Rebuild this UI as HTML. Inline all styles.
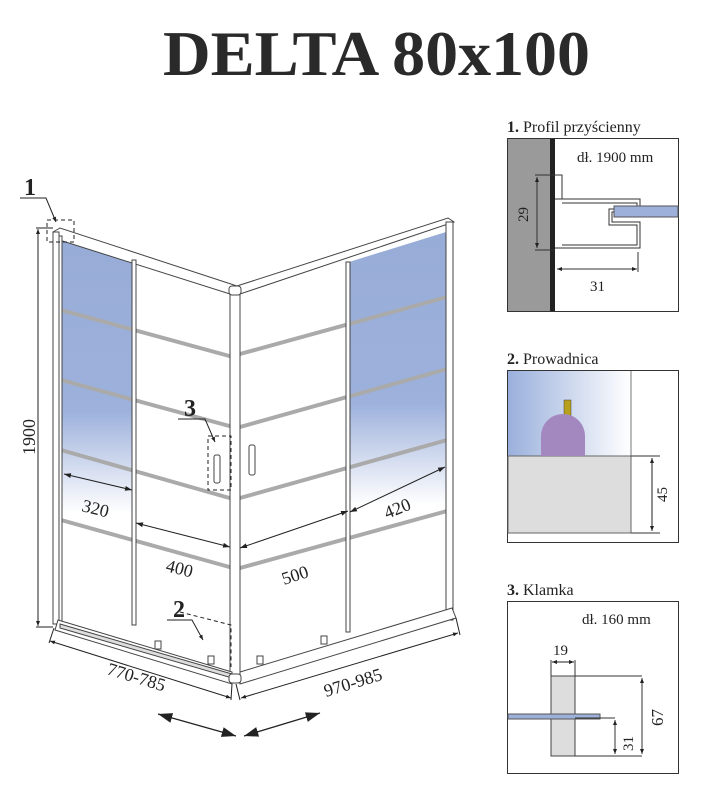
<!DOCTYPE html>
<html><head><meta charset="utf-8"><style>
html,body{margin:0;padding:0;background:#fff;}
svg{display:block;font-family:"Liberation Serif",serif;}
</style></head><body>
<svg width="704" height="800" viewBox="0 0 704 800" xmlns="http://www.w3.org/2000/svg">
<defs>
<marker id="a" viewBox="0 0 10 10" refX="10" refY="5" markerWidth="7" markerHeight="7" orient="auto-start-reverse"><path d="M0,1.5 L10,5 L0,8.5 z" fill="#222"/></marker>
<marker id="c" viewBox="0 0 10 10" refX="10" refY="5" markerWidth="11" markerHeight="11" orient="auto-start-reverse"><path d="M0,1.5 L10,5 L0,8.5 z" fill="#222"/></marker>
<marker id="b" viewBox="0 0 10 10" refX="10" refY="5" markerWidth="5" markerHeight="5" orient="auto-start-reverse"><path d="M0,1 L10,5 L0,9 z" fill="#222"/></marker>
<linearGradient id="gl" x1="0" y1="0" x2="0" y2="1"><stop offset="0" stop-color="#98acd8"/><stop offset="0.45" stop-color="#9db1dc"/><stop offset="0.72" stop-color="#fff"/></linearGradient>
<linearGradient id="gb" x1="0" y1="0" x2="1" y2="0"><stop offset="0" stop-color="#9ab0dc"/><stop offset="1" stop-color="#fff"/></linearGradient>
</defs>
<text x="163" y="75" font-size="64" font-weight="bold" fill="#2a2a2a" textLength="427" lengthAdjust="spacingAndGlyphs">DELTA 80x100</text>

<polygon points="62,240 134,262 134,620 62,620" fill="url(#gl)"/>
<polygon points="349,262 446,232 446,612 349,612" fill="url(#gl)"/>
<g stroke="#aaa" stroke-width="4">
<line x1="61" y1="310" x2="233" y2="357"/><line x1="61" y1="380" x2="233" y2="427"/>
<line x1="61" y1="450" x2="233" y2="499"/><line x1="61" y1="520" x2="233" y2="568"/>
<line x1="240" y1="354" x2="447" y2="297"/><line x1="240" y1="427" x2="447" y2="369"/>
<line x1="240" y1="498" x2="447" y2="440"/><line x1="240" y1="568" x2="447" y2="511"/>
</g>
<g fill="#fff" stroke="#444" stroke-width="1">
<polygon points="53,232 60,228 237,286 237,294 230,294 53,238"/>
<polygon points="237,286 448,218 454,222 240,294"/>
<rect x="53" y="232" width="6" height="392"/>
<rect x="59" y="236" width="3" height="388"/>
<rect x="230" y="290" width="10" height="390"/>
<rect x="446" y="222" width="7" height="398"/>
<rect x="132" y="260" width="4" height="365"/>
<rect x="346" y="262" width="4" height="370"/>
<polygon points="58,620 232,672 232,684 55,630"/>
<polygon points="240,672 452,608 456,618 240,684"/>
<polygon points="60,624 232,674 232,678 60,628" fill="#ddd"/>
<rect x="229" y="674" width="12" height="9" rx="3"/>
<rect x="229" y="286" width="12" height="9" rx="3"/>
<rect x="214" y="455" width="6" height="28" rx="2"/>
<rect x="249" y="445" width="6" height="30" rx="2"/>
</g>
<g fill="#fff" stroke="#444"><rect x="155" y="641" width="6" height="8"/><rect x="208" y="656" width="6" height="8"/><rect x="257" y="656" width="6" height="8"/><rect x="321" y="636" width="6" height="8"/></g>
<g fill="none" stroke="#222" stroke-dasharray="4,3">
<rect x="47" y="220" width="27" height="22"/>
<rect x="208" y="436" width="23" height="54"/>
<polyline points="180,612 231,625 231,667"/>
</g>
<g stroke="#222" fill="none">
<polyline points="20,198 46,198 56,222" marker-end="url(#b)"/>
<polyline points="178,419 205,419 215,442" marker-end="url(#b)"/>
<polyline points="167,620 192,620 203,640" marker-end="url(#b)"/>
</g>
<g font-weight="bold" font-size="24" fill="#222"><text x="24" y="195">1</text><text x="184" y="416">3</text><text x="173" y="617">2</text></g>
<g stroke="#222" stroke-width="1" fill="none">
<line x1="38" y1="229" x2="38" y2="626" marker-start="url(#b)" marker-end="url(#b)"/>
<line x1="36" y1="228" x2="53" y2="228"/><line x1="36" y1="627" x2="53" y2="627"/>
<line x1="64" y1="474" x2="132" y2="490" marker-start="url(#a)" marker-end="url(#a)"/>
<line x1="350" y1="512" x2="445" y2="467" marker-start="url(#a)" marker-end="url(#a)"/>
<line x1="136" y1="523" x2="230" y2="547" marker-start="url(#a)" marker-end="url(#a)"/>
<line x1="240" y1="548" x2="348" y2="511" marker-start="url(#a)" marker-end="url(#a)"/>
<line x1="50" y1="641" x2="231" y2="698" marker-start="url(#b)" marker-end="url(#b)"/>
<line x1="54" y1="628" x2="49" y2="643"/><line x1="232" y1="684" x2="231" y2="700"/>
<line x1="241" y1="698" x2="458" y2="633" marker-start="url(#b)" marker-end="url(#b)"/>
<line x1="456" y1="618" x2="460" y2="635"/><line x1="236" y1="684" x2="240" y2="700"/>
<line x1="158" y1="714" x2="236" y2="736" stroke-width="1.3" marker-start="url(#c)" marker-end="url(#c)"/>
<line x1="244" y1="736" x2="320" y2="713" stroke-width="1.3" marker-start="url(#c)" marker-end="url(#c)"/>
</g>
<g font-size="18" fill="#222">
<text transform="translate(35,455) rotate(-90)">1900</text>
<text transform="translate(81,511) rotate(14)">320</text>
<text transform="translate(387,519) rotate(-22)">420</text>
<text transform="translate(165,571) rotate(14)">400</text>
<text transform="translate(284,585) rotate(-18)">500</text>
<text transform="translate(106,674) rotate(17)">770-785</text>
<text transform="translate(326,697) rotate(-17)">970-985</text>
</g>

<text x="507" y="132" font-size="16" fill="#222"><tspan font-weight="bold">1.</tspan> Profil przyścienny</text>
<rect x="507.5" y="138.5" width="171" height="173" fill="#fff" stroke="#333"/>
<rect x="508" y="139" width="44" height="172" fill="#9a9a9a"/>
<rect x="550" y="139" width="5" height="172" fill="#222"/>
<text x="577" y="162" font-size="15" fill="#222">dł. 1900 mm</text>
<g fill="none" stroke="#333">
<polyline points="555,175 562,175 562,199"/>
<polyline points="555,199 640,199 640,212 612,212 612,222 640,222 640,248 555,248"/>
<polyline points="562,203 637,203 637,209 609,209 609,225 637,225 637,245 562,245"/>
<line x1="535" y1="175" x2="555" y2="175"/><line x1="535" y1="250" x2="555" y2="250"/>
<line x1="537" y1="177" x2="537" y2="248" marker-start="url(#b)" marker-end="url(#b)"/>
<line x1="638" y1="252" x2="638" y2="272"/>
<line x1="557" y1="269" x2="637" y2="269" marker-start="url(#b)" marker-end="url(#b)"/>
</g>
<rect x="614" y="206" width="64" height="11" fill="#9cb0da" stroke="#555"/>
<text transform="translate(528,222) rotate(-90)" font-size="15" fill="#222">29</text>
<text x="590" y="291" font-size="15" fill="#222">31</text>

<text x="507" y="364" font-size="16" fill="#222"><tspan font-weight="bold">2.</tspan> Prowadnica</text>
<rect x="507.5" y="370.5" width="171" height="172" fill="#fff" stroke="#333"/>
<rect x="508" y="371" width="123" height="85" fill="url(#gb)"/>
<line x1="631" y1="371" x2="631" y2="533" stroke="#777"/>
<rect x="508" y="456" width="123" height="77" fill="#ddd" stroke="#666"/>
<rect x="564" y="400" width="7" height="18" fill="#b8a01c" stroke="#444" stroke-width="0.5"/>
<path d="M541,456 L541,436 A22,22 0 0 1 585,436 L585,456 Z" fill="#a388bf"/>
<line x1="631" y1="456" x2="660" y2="456" stroke="#333"/><line x1="631" y1="533" x2="660" y2="533" stroke="#333"/>
<line x1="652" y1="458" x2="652" y2="531" stroke="#222" marker-start="url(#b)" marker-end="url(#b)"/>
<text transform="translate(667,502) rotate(-90)" font-size="15" fill="#222">45</text>

<text x="507" y="595" font-size="16" fill="#222"><tspan font-weight="bold">3.</tspan> Klamka</text>
<rect x="507.5" y="601.5" width="171" height="172" fill="#fff" stroke="#333"/>
<text x="582" y="624" font-size="15" fill="#222">dł. 160 mm</text>
<text x="553" y="655" font-size="15" fill="#222">19</text>
<line x1="552" y1="662" x2="574" y2="662" stroke="#222" marker-start="url(#b)" marker-end="url(#b)"/>
<line x1="551" y1="660" x2="551" y2="676" stroke="#333"/><line x1="575" y1="660" x2="575" y2="676" stroke="#333"/>
<rect x="551" y="676" width="24" height="80" fill="#ddd" stroke="#444"/>
<rect x="508" y="714" width="92" height="5" fill="#9cb0da" stroke="#555"/>
<g stroke="#333" fill="none">
<line x1="575" y1="676" x2="642" y2="676"/><line x1="575" y1="756" x2="642" y2="756"/>
<line x1="575" y1="718" x2="615" y2="718"/>
<line x1="642" y1="678" x2="642" y2="754" marker-start="url(#b)" marker-end="url(#b)"/>
<line x1="615" y1="720" x2="615" y2="754" marker-start="url(#b)" marker-end="url(#b)"/>
</g>
<text transform="translate(663,726) rotate(-90)" font-size="17" fill="#222">67</text>
<text transform="translate(633,751) rotate(-90)" font-size="15" fill="#222">31</text>
</svg>
</body></html>
